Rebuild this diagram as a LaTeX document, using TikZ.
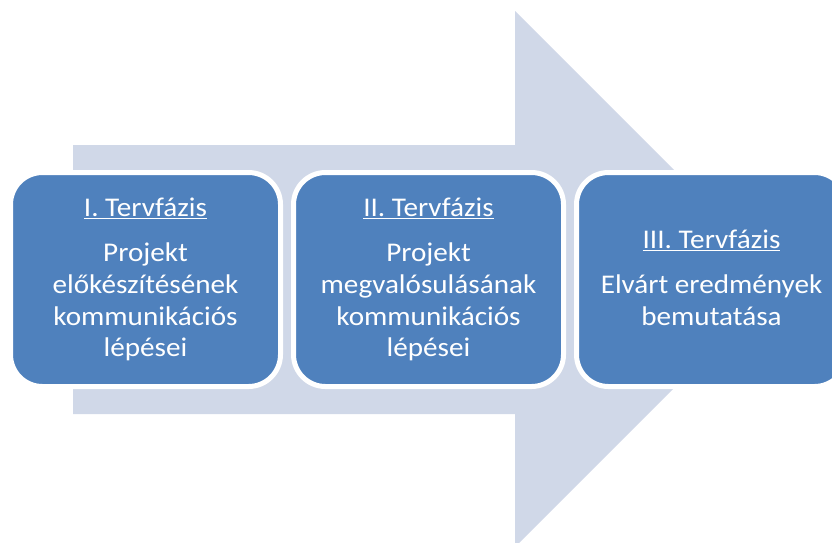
\documentclass[tikz,border=0pt]{standalone}
\usepackage{fontspec}
\setmainfont{Carlito}[FakeStretch=1.08]
\definecolor{boxblue}{HTML}{4F81BD}
\definecolor{arrowgray}{HTML}{D0D8E8}
\begin{document}
\begin{tikzpicture}[x=1pt,y=-1pt,
  phase/.style={draw=white, line width=5pt, fill=boxblue, rounded corners=32pt,
    minimum width=270pt, minimum height=214pt, inner sep=0pt},
  phasetext/.style={text=white, align=center, anchor=base, inner sep=0pt,
    font=\fontsize{27}{31.7}\selectfont},
  backarrow/.style={fill=arrowgray}]
\useasboundingbox (0,0) rectangle (832,542);
% broad background arrow
\fill[backarrow] (73,145) -- (515,145) -- (515,11) -- (783,279)
  -- (515,547) -- (515,414) -- (73,414) -- cycle;
% the three phases
\node[phase] (p1) at (145.5,279.5) {};
\node[phase] (p2) at (428.5,279.5) {};
\node[phase] (p3) at (711.5,279.5) {};
% their texts, placed by the baseline of the last line
\node[phasetext] (t1) at (145.5,356.7)
  {\underline{I. Tervfázis}\\[13.3pt]Projekt\\előkészítésének\\kommunikációs\\lépései};
\node[phasetext] (t2) at (428.5,356.7)
  {\underline{II. Tervfázis}\\[13.3pt]Projekt\\megvalósulásának\\kommunikációs\\lépései};
\node[phasetext] (t3) at (711.5,325)
  {\underline{III. Tervfázis}\\[13.3pt]Elvárt eredmények\\bemutatása};
\end{tikzpicture}
\end{document}
